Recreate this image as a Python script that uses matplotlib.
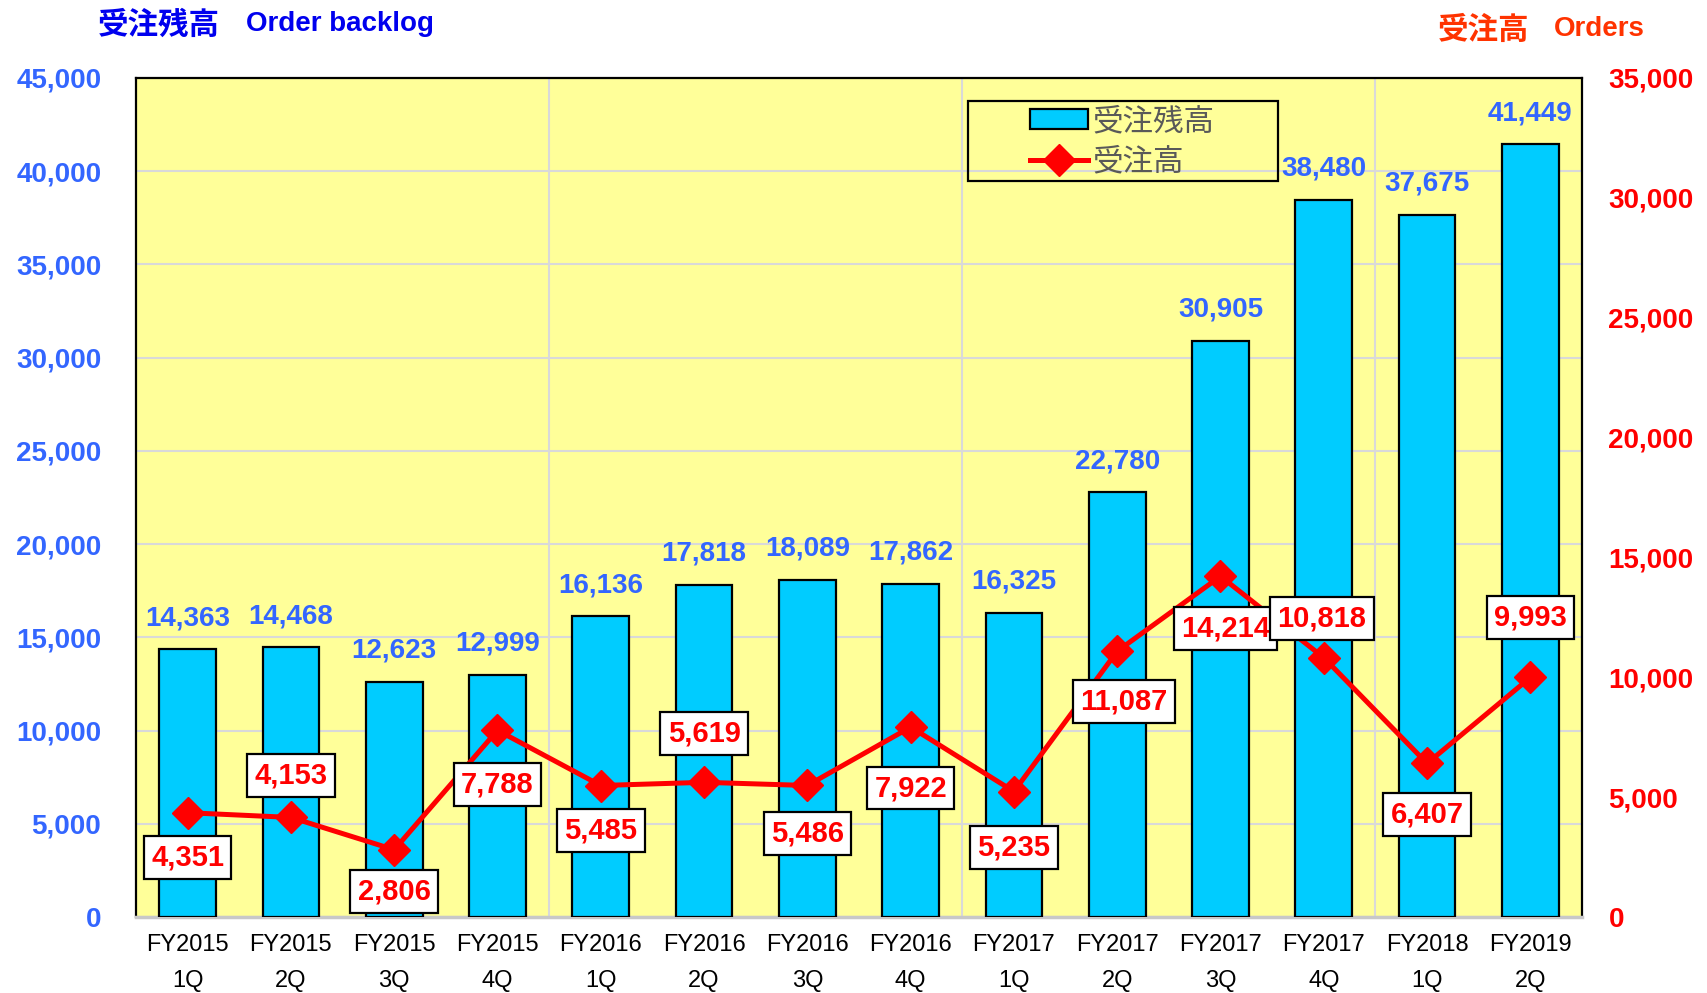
import matplotlib
matplotlib.use('Agg')
import matplotlib.pyplot as plt
from matplotlib.patches import Rectangle, Patch
from matplotlib.lines import Line2D

# ---------------- data ----------------
periods = ["FY2015\n1Q", "FY2015\n2Q", "FY2015\n3Q", "FY2015\n4Q",
           "FY2016\n1Q", "FY2016\n2Q", "FY2016\n3Q", "FY2016\n4Q",
           "FY2017\n1Q", "FY2017\n2Q", "FY2017\n3Q", "FY2017\n4Q",
           "FY2018\n1Q", "FY2019\n2Q"]
backlog = [14363, 14468, 12623, 12999, 16136, 17818, 18089, 17862,
           16325, 22780, 30905, 38480, 37675, 41449]
orders = [4351, 4153, 2806, 7788, 5485, 5619, 5486, 7922,
          5235, 11087, 14214, 10818, 6407, 9993]
left_ticks = [0, 5000, 10000, 15000, 20000, 25000, 30000, 35000, 40000, 45000]
right_ticks = [0, 5000, 10000, 15000, 20000, 25000, 30000, 35000]
legend_labels = ["受注残高", "受注高"]
title_left_jp = "受注残高"
title_left_en = "Order backlog"
title_right_jp = "受注高"
title_right_en = "Orders"

# ---------------- layout (label offsets in pixels) ----------------
order_label_dy = [-45, 42, -42, -54, -45, 49, -48, -61, -56, -50, -52, 39, -51, 60]
order_label_dx = [0, 0, 0, 0, 0, 0, 0, 0, 0, 7, 5, -2, 0, 0]

FONT = ['Liberation Sans', 'Noto Sans CJK JP', 'DejaVu Sans']
CJK = ['Noto Sans CJK JP', 'DejaVu Sans']
plt.rcParams['font.family'] = FONT

W, H = 1708, 993
fig = plt.figure(figsize=(W / 100, H / 100), dpi=100)
ax = fig.add_axes([136 / W, 1 - 917 / H, (1582 - 136) / W, (917 - 78) / H])
ax.set_facecolor('#FFFF99')

x = list(range(len(periods)))
ax.bar(x, backlog, width=0.55, color='#00CCFF', edgecolor='black', linewidth=1.6, zorder=3)
ax.set_xlim(-0.5, len(periods) - 0.5)
ax.set_ylim(0, 45000)
ax.set_yticks(left_ticks)
ax.set_yticklabels([f"{v:,}" for v in left_ticks], fontweight='bold', fontsize=20, color='#3366FF')
ax.set_xticks(x)
ax.set_xticklabels(periods, fontsize=17, linespacing=1.85, color='black')
ax.tick_params(axis='y', length=0, pad=25)
ax.tick_params(axis='x', length=0, pad=12)

ax.grid(axis='y', color='#D9D9D9', linewidth=1.5, zorder=1)
for xv in [3.5, 7.5, 11.5]:
    ax.axvline(xv, color='#D9D9D9', linewidth=1.5, zorder=1)
ax.set_axisbelow(True)

for xi, v in zip(x, backlog):
    ax.annotate(f"{v:,}", (xi, v), xytext=(0, 31), textcoords='offset pixels',
                ha='center', va='center', fontsize=20, fontweight='bold',
                color='#3366FF', zorder=4)

for s in ['top', 'left', 'right']:
    ax.spines[s].set_color('black')
    ax.spines[s].set_linewidth(1.6)
ax.spines['bottom'].set_color('#C8C8C8')
ax.spines['bottom'].set_linewidth(2.5)

ax2 = ax.twinx()
ax2.set_ylim(0, 35000)
ax2.set_yticks(right_ticks)
ax2.set_yticklabels([f"{v:,}" for v in right_ticks], fontweight='bold', fontsize=20, color='#FF0000')
ax2.tick_params(axis='y', length=0, pad=19)
for s in ax2.spines.values():
    s.set_visible(False)
ax2.plot(x, orders, color='#FF0000', linewidth=3.6, marker='D', markersize=16,
         markeredgecolor='#FF0000', zorder=5)
for xi, v, dx, dy in zip(x, orders, order_label_dx, order_label_dy):
    ax2.annotate(f"{v:,}", (xi, v), xytext=(dx, dy), textcoords='offset pixels',
                 ha='center', va='center', fontsize=21, fontweight='bold', color='#FF0000',
                 bbox=dict(boxstyle='square,pad=0.25', facecolor='white', edgecolor='black',
                           linewidth=1.6), zorder=6)

# legend
fig.patches.append(Rectangle((968 / W, 1 - 181 / H), 310 / W, 80 / H, transform=fig.transFigure,
                             fill=False, edgecolor='black', linewidth=1.6, zorder=10))
handles = [Patch(facecolor='#00CCFF', edgecolor='black', linewidth=1.6),
           Line2D([], [], color='#FF0000', linewidth=3.6, marker='D', markersize=16)]
leg = fig.legend(handles, legend_labels, loc='center left',
                 bbox_to_anchor=(1030 / W, 1 - 141.5 / H), frameon=False,
                 borderpad=0, borderaxespad=0, handlelength=1.9, handletextpad=0.15,
                 handleheight=0.6, labelspacing=0.3, prop={'family': CJK, 'size': 22})
for t in leg.get_texts():
    t.set_color('#595959')

# titles
fig.text(98 / W, 1 - 25 / H, title_left_jp, ha='left', va='center', fontsize=22,
         fontweight='bold', color='#0000EE', family=CJK)
fig.text(246 / W, 1 - 24 / H, title_left_en, ha='left', va='center', fontsize=20,
         fontweight='bold', color='#0000EE', family=FONT)
fig.text(1438 / W, 1 - 30 / H, title_right_jp, ha='left', va='center', fontsize=22,
         fontweight='bold', color='#FF3300', family=CJK)
fig.text(1645 / W, 1 - 29 / H, title_right_en, ha='right', va='center', fontsize=20,
         fontweight='bold', color='#FF3300', family=FONT)

fig.savefig('out.png', dpi=100)
